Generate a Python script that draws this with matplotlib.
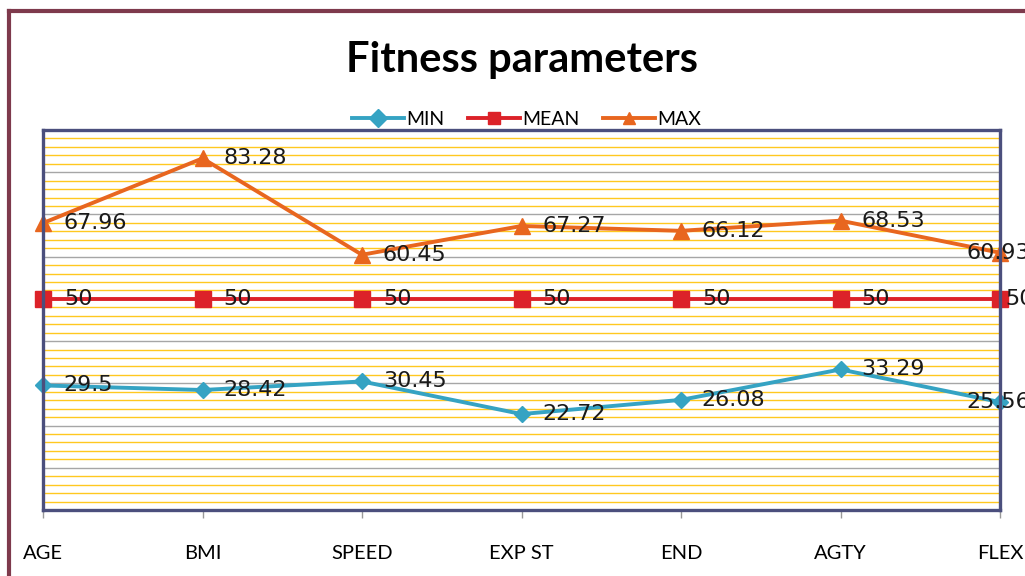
import numpy as np
import matplotlib
matplotlib.use("Agg")
import matplotlib.pyplot as plt
from matplotlib.lines import Line2D

categories = ["AGE", "BMI", "SPEED", "EXP ST", "END", "AGTY", "FLEX"]
min_vals = [29.5, 28.42, 30.45, 22.72, 26.08, 33.29, 25.56]
mean_vals = [50, 50, 50, 50, 50, 50, 50]
max_vals = [67.96, 83.28, 60.45, 67.27, 66.12, 68.53, 60.93]

C_MIN = "#35a3c3"
C_MEAN = "#dc2229"
C_MAX = "#e8661f"
NAVY = "#4b4f7d"

fig = plt.figure(figsize=(10.25, 5.76), dpi=100)
ax = fig.add_axes([43 / 1025, 1 - 510 / 576, 957 / 1025, 380 / 576])

x = np.arange(len(categories))

# gridlines: yellow minor every 2, grey major every 10
for v in range(2, 90, 2):
    col = "#a6a6a6" if v % 10 == 0 else "#ffc820"
    ax.axhline(v, color=col, lw=1.0, zorder=0)

series = [
    ("MIN", min_vals, C_MIN, "D", 8),
    ("MEAN", mean_vals, C_MEAN, "s", 11),
    ("MAX", max_vals, C_MAX, "^", 12),
]
for name, vals, col, mk, ms in series:
    ax.plot(x, vals, color=col, lw=2.8, marker=mk, ms=ms, label=name,
            clip_on=False, zorder=4)

# data labels (Excel nudges the last ones back inside)
for name, vals, col, mk, ms in series:
    for i, v in enumerate(vals):
        dx = 15
        if i == len(vals) - 1:
            dx = 4 if name == "MEAN" else -24
        ax.annotate(f"{v:g}", xy=(i, v), xytext=(dx, 0), textcoords="offset points",
                    ha="left", va="center", fontsize=16, color="#1a1a1a",
                    family="DejaVu Sans", zorder=6, annotation_clip=False)

ax.set_xlim(0, 6)
ax.set_ylim(0, 90)
ax.set_yticks([])
ax.set_xticks(x)
ax.set_xticklabels(categories, fontsize=14.5, family="Lato")
ax.tick_params(axis="x", length=6, color="#999999", width=1, pad=19)
for sp in ax.spines.values():
    sp.set_color(NAVY)
    sp.set_linewidth(2.4)
    sp.set_zorder(5)

ax.set_title("Fitness parameters", fontsize=30, fontweight="bold", family="Lato",
             color="black", pad=0, y=1 + 58 / 380)

leg = ax.legend(loc="lower center", bbox_to_anchor=(0.505, 0.985), ncol=3, frameon=False,
                handlelength=2.7, columnspacing=1.2, handletextpad=0.1,
                borderaxespad=0, prop={"family": "Lato", "size": 14})
for h in leg.legend_handles:
    h.set_markersize(9)

# outer chart border (cropped on right/bottom)
fig.add_artist(Line2D([9 / 1025, 9 / 1025], [0, 1 - 11 / 576], color="#7e3a4c", lw=3,
                      transform=fig.transFigure))
fig.add_artist(Line2D([9 / 1025, 1], [1 - 11 / 576, 1 - 11 / 576], color="#7e3a4c", lw=3,
                      transform=fig.transFigure))

fig.savefig("out.png", dpi=100)
